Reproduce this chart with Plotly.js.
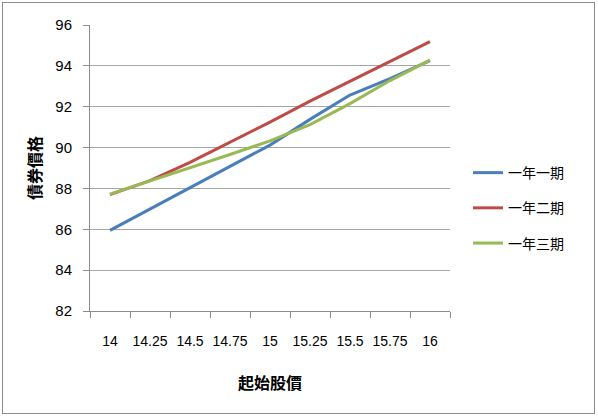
<!DOCTYPE html>
<html>
<head>
<meta charset="utf-8">
<script src="https://cdn.plot.ly/plotly-3.0.1.min.js"></script>
<style>
  body { margin: 0; background: #fff; }
  #wrap { position: relative; width: 598px; height: 416px; }
  #chart { width: 598px; height: 416px; }
  #frame { position: absolute; left: 2px; top: 2px; width: 591px; height: 410px;
           border: 1px solid #8c8c8c; pointer-events: none; }
</style>
</head>
<body>
<div id="wrap">
  <div id="chart"></div>
  <div id="frame"></div>
</div>
<script>
// 起始股價 categories
var prices = ['14', '14.25', '14.5', '14.75', '15', '15.25', '15.5', '15.75', '16'];

// 債券價格 per series
var bondA = [85.95, 87.0, 88.05, 89.08, 90.12, 91.38, 92.57, 93.38, 94.26];  // 一年一期
var bondB = [87.7, 88.38, 89.28, 90.25, 91.25, 92.27, 93.25, 94.21, 95.19];  // 一年二期
var bondC = [87.72, 88.36, 89.0, 89.66, 90.33, 91.12, 92.15, 93.28, 94.28];  // 一年三期

var names = ['一年一期', '一年二期', '一年三期'];
var colors = ['#4a7ebb', '#be4b48', '#98b954'];
var series = [bondA, bondB, bondC];

var traces = series.map(function (vals, i) {
  return {
    x: prices,
    y: vals,
    name: names[i],
    legendgroup: 'g' + i,
    type: 'scatter',
    mode: 'lines',
    line: { color: colors[i], width: 3 }
  };
});

var cjk = '"Noto Sans CJK TC", "Noto Sans CJK SC", sans-serif';
var num = '"Liberation Sans Narrow", "Liberation Sans", Arial, sans-serif';

var layout = {
  width: 598,
  height: 416,
  margin: { l: 90, r: 148, t: 25, b: 105 },
  paper_bgcolor: '#fff',
  plot_bgcolor: '#fff',
  showlegend: true,
  legend: {
    x: 1.05, y: 0.36, xanchor: 'left', yanchor: 'middle',
    traceorder: 'grouped', tracegroupgap: 14,
    font: { family: cjk, size: 14, color: '#000' },
    itemwidth: 30
  },
  xaxis: {
    type: 'category',
    range: [-0.5, 8.5],
    showline: true, linecolor: '#8c8c8c', linewidth: 1,
    ticks: 'outside', tickson: 'boundaries', ticklen: 6, tickcolor: '#8c8c8c',
    showgrid: false, zeroline: false,
    tickangle: 0,
    ticklabelstandoff: 17,
    tickfont: { family: num, size: 14, color: '#000' },
    title: { text: '起始股價', standoff: 30, font: { family: cjk, size: 16, color: '#000', weight: 'bold' } }
  },
  yaxis: {
    range: [82, 96],
    dtick: 2,
    showline: true, linecolor: '#8c8c8c', linewidth: 1,
    ticks: 'outside', ticklen: 6, tickcolor: '#8c8c8c',
    showgrid: true, gridcolor: '#a6a6a6', gridwidth: 1,
    zeroline: false,
    ticklabelstandoff: 8,
    tickfont: { family: num, size: 15, color: '#000' },
    title: { text: '債券價格', standoff: 9, font: { family: cjk, size: 16, color: '#000', weight: 'bold' } }
  }
};

Plotly.newPlot('chart', traces, layout, { displayModeBar: false, staticPlot: true });
</script>
</body>
</html>
